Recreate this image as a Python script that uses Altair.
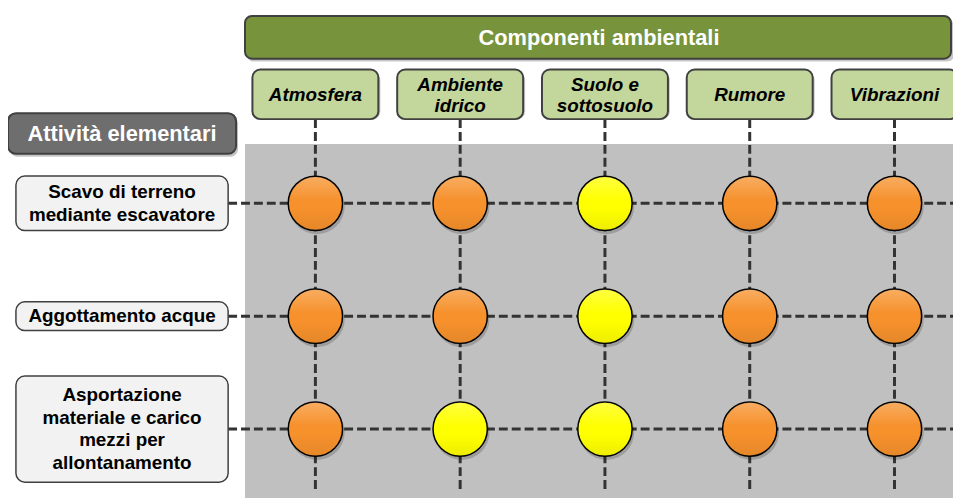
import altair as alt
import pandas as pd

# ---------------- data ----------------
titolo_colonne = "Componenti ambientali"
titolo_righe = "Attività elementari"

componenti = ["Atmosfera", "Ambiente idrico", "Suolo e sottosuolo", "Rumore", "Vibrazioni"]
etichette_componenti = ["Atmosfera", "Ambiente\nidrico", "Suolo e\nsottosuolo", "Rumore", "Vibrazioni"]

attivita = [
    "Scavo di terreno mediante escavatore",
    "Aggottamento acque",
    "Asportazione materiale e carico mezzi per allontanamento",
]
etichette_attivita = [
    "Scavo di terreno\nmediante escavatore",
    "Aggottamento acque",
    "Asportazione\nmateriale e carico\nmezzi per\nallontanamento",
]

impatti = [
    ["alto", "alto", "basso", "alto", "alto"],
    ["alto", "alto", "basso", "alto", "alto"],
    ["alto", "basso", "basso", "alto", "alto"],
]
livelli = ["alto", "basso"]
colori_livelli = ["#f6912c", "#ffff00"]

# ---------------- tables ----------------
df_col = pd.DataFrame({
    "componente": componenti,
    "etichetta": etichette_componenti,
    "righe": [s.count("\n") + 1 for s in etichette_componenti],
})
df_row = pd.DataFrame({
    "attivita": attivita,
    "etichetta": etichette_attivita,
    "righe": [s.count("\n") + 1 for s in etichette_attivita],
})
df_cell = pd.DataFrame([
    {"attivita": a, "componente": c, "livello": impatti[i][j]}
    for i, a in enumerate(attivita)
    for j, c in enumerate(componenti)
])
df_banner = pd.DataFrame({"testo": [titolo_colonne]})
df_rowtitle = pd.DataFrame({"testo": [titolo_righe]})
df_one = pd.DataFrame({"k": [0]})

FONT = "Liberation Sans"
BORDER = "#404040"
DASH = "#333333"

X = alt.X("componente:N", axis=None,
          scale=alt.Scale(type="band", domain=componenti, range=[237, 967],
                          paddingInner=0.13, paddingOuter=0.065))
Y = alt.Y("attivita:N", axis=None,
          scale=alt.Scale(type="band", domain=attivita, range=[138, 479.5],
                          paddingInner=0, paddingOuter=0))

layers = []

# grey matrix background
layers.append(alt.Chart(df_one).mark_rect(fill="#c0c0c0").encode(
    x=alt.value(239), x2=alt.value(960), y=alt.value(135), y2=alt.value(495)))

# green banner (shadow + box + text)
layers.append(alt.Chart(df_banner).mark_rect(fill="#000000", opacity=0.22, cornerRadius=7).encode(
    x=alt.value(241), x2=alt.value(954), y=alt.value(9), y2=alt.value(52)))
layers.append(alt.Chart(df_banner).mark_rect(fill="#77933c", stroke=BORDER, strokeWidth=2, cornerRadius=7).encode(
    x=alt.value(239), x2=alt.value(951), y=alt.value(6), y2=alt.value(49)))
layers.append(alt.Chart(df_banner).mark_text(font=FONT, fontWeight="bold", fontSize=22, color="white",
                                             align="center", baseline="middle").encode(
    x=alt.value(596), y=alt.value(28), text="testo:N"))

# vertical dashed rules
layers.append(alt.Chart(df_col).mark_rule(color=DASH, strokeWidth=3, strokeDash=[9, 4]).encode(
    x=X, y=alt.value(110), y2=alt.value(484)))
# horizontal dashed rules
layers.append(alt.Chart(df_row).mark_rule(color=DASH, strokeWidth=3, strokeDash=[9, 4]).encode(
    y=Y, x=alt.value(222), x2=alt.value(953)))

# column header boxes
layers.append(alt.Chart(df_col).mark_rect(fill="#000000", opacity=0.22, cornerRadius=8,
                                          xOffset=2, yOffset=3).encode(
    x=X, y=alt.value(60), y2=alt.value(110)))
layers.append(alt.Chart(df_col).mark_rect(fill="#c3d69b", stroke=BORDER, strokeWidth=2, cornerRadius=8).encode(
    x=X, y=alt.value(60), y2=alt.value(110)))
COL_LH = 21
for n in sorted(df_col["righe"].unique()):
    sub = df_col[df_col["righe"] == n]
    layers.append(alt.Chart(sub).mark_text(font=FONT, fontWeight="bold", fontStyle="italic", fontSize=19,
                                           lineBreak="\n", lineHeight=COL_LH, color="black",
                                           dy=-(int(n) - 1) * COL_LH / 2,
                                           align="center", baseline="middle").encode(
        x=X, y=alt.value(86), text="etichetta:N"))

# row title box
layers.append(alt.Chart(df_rowtitle).mark_rect(fill="#000000", opacity=0.22, cornerRadius=8).encode(
    x=alt.value(2), x2=alt.value(232), y=alt.value(107), y2=alt.value(148)))
layers.append(alt.Chart(df_rowtitle).mark_rect(fill="#6e6e6e", stroke=BORDER, strokeWidth=2, cornerRadius=8).encode(
    x=alt.value(0), x2=alt.value(230), y=alt.value(104), y2=alt.value(145)))
layers.append(alt.Chart(df_rowtitle).mark_text(font=FONT, fontWeight="bold", fontSize=22, color="white",
                                               align="center", baseline="middle").encode(
    x=alt.value(115), y=alt.value(125), text="testo:N"))

# row label boxes (height depends on number of text lines) and their texts
ROW_LH = 23
for n in sorted(df_row["righe"].unique()):
    sub = df_row[df_row["righe"] == n]
    layers.append(alt.Chart(sub).mark_rect(height=int(26 * n + 3), fill="#f2f2f2", stroke=BORDER,
                                           strokeWidth=1.5, cornerRadius=9).encode(
        x=alt.value(8), x2=alt.value(222), y=Y))
    layers.append(alt.Chart(sub).mark_text(font=FONT, fontWeight="bold", fontSize=19, lineBreak="\n",
                                           lineHeight=ROW_LH, color="black",
                                           dy=-(int(n) - 1) * ROW_LH / 2,
                                           align="center", baseline="middle").encode(
        x=alt.value(115), y=Y, text="etichetta:N"))

# circles: shadow, fill, shading
layers.append(alt.Chart(df_cell).mark_circle(size=3150, fill="#000000", opacity=0.18,
                                             xOffset=1.5, yOffset=3).encode(x=X, y=Y))
layers.append(alt.Chart(df_cell).mark_circle(size=3000, opacity=1, stroke="#000000", strokeWidth=1.5).encode(
    x=X, y=Y,
    fill=alt.Fill("livello:N", scale=alt.Scale(domain=livelli, range=colori_livelli), legend=None)))
shade = alt.Gradient(
    gradient="linear", x1=0, x2=0, y1=0, y2=1,
    stops=[
        alt.GradientStop(color="rgba(255,255,255,0.25)", offset=0),
        alt.GradientStop(color="rgba(255,255,255,0)", offset=0.45),
        alt.GradientStop(color="rgba(0,0,0,0)", offset=0.6),
        alt.GradientStop(color="rgba(0,0,0,0.07)", offset=1),
    ],
)
layers.append(alt.Chart(df_cell).mark_circle(size=2900, fill=shade, opacity=1, strokeWidth=0).encode(x=X, y=Y))

chart = alt.layer(*layers).properties(
    width=953, height=490, padding=0,
    autosize=alt.AutoSizeParams(type="none"),
    background="white",
).configure_view(strokeWidth=0)

chart.save("out.html", embed_options={"renderer": "svg", "actions": False})
